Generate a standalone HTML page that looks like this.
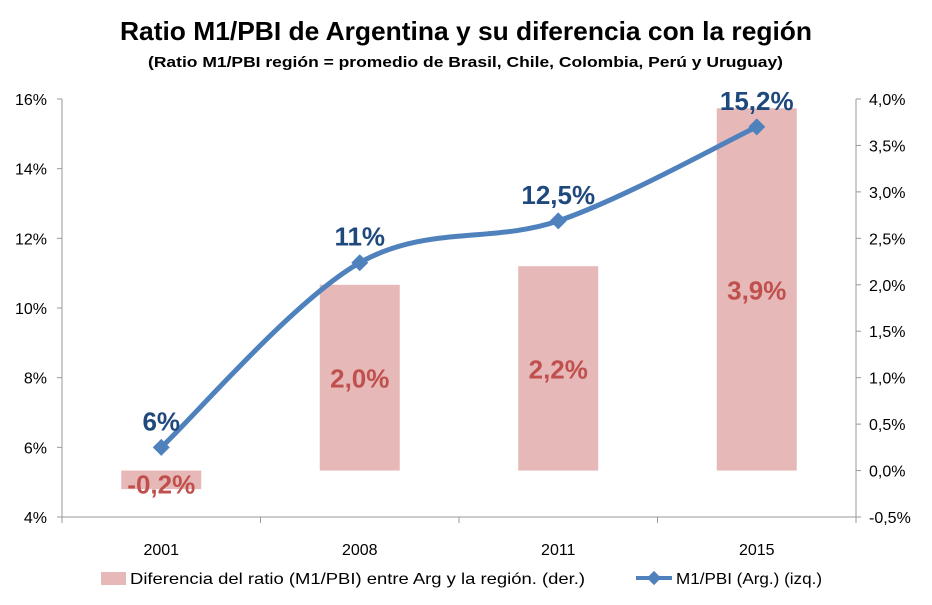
<!DOCTYPE html>
<html><head><meta charset="utf-8"><style>
body{margin:0;background:#fff;}
svg{display:block;font-family:"Liberation Sans",Calibri,sans-serif;}
</style></head><body>
<svg id="c" width="932" height="605" viewBox="0 0 932 605">
<text x="120" y="40" textLength="692" lengthAdjust="spacingAndGlyphs" font-size="26" font-weight="bold" fill="#000">Ratio M1/PBI de Argentina y su diferencia con la región</text>
<text x="148" y="67" textLength="635" lengthAdjust="spacingAndGlyphs" font-size="15" font-weight="bold" fill="#000">(Ratio M1/PBI región = promedio de Brasil, Chile, Colombia,  Perú y Uruguay)</text>
<g id="axes"></g><g id="bars"></g><g id="line"></g><g id="labels"></g>
<g>
<rect x="101" y="572" width="25" height="13" fill="#e6b9b8"/>
<text x="130" y="584" textLength="455" lengthAdjust="spacingAndGlyphs" font-size="16" fill="#000">Diferencia del ratio (M1/PBI) entre Arg y la región. (der.)</text>
<line x1="636" y1="578" x2="672" y2="578" stroke="#4f81bd" stroke-width="4"/>
<rect x="649" y="573" width="10" height="10" fill="#4f81bd" transform="rotate(45 654 578)"/>
<text x="676" y="584" textLength="146" lengthAdjust="spacingAndGlyphs" font-size="16" fill="#000">M1/PBI (Arg.) (izq.)</text>
</g>
</svg>
<script>
const categories=["2001","2008","2011","2015"];
const diffValues=[-0.2,2.0,2.2,3.9];
const diffLabels=["-0,2%","2,0%","2,2%","3,9%"];
const m1Values=[6,11.3,12.5,15.2];
const m1Labels=["6%","11%","12,5%","15,2%"];
const leftTicks=[4,6,8,10,12,14,16];
const rightTicks=[-0.5,0,0.5,1,1.5,2,2.5,3,3.5,4];
const NS="http://www.w3.org/2000/svg";
const X0=62,X1=856,Y0=99,Y1=517;
const yL=v=>Y1-(v-4)/12*(Y1-Y0);
const yR=v=>Y1-(v+0.5)/4.5*(Y1-Y0);
const bw=(X1-X0)/categories.length;
const xC=i=>X0+bw*(i+0.5);
function mk(tag,attrs,parent){const e=document.createElementNS(NS,tag);for(const k in attrs)e.setAttribute(k,attrs[k]);document.getElementById(parent).appendChild(e);return e;}
let e=mk('line',{x1:X0,y1:Y0,x2:X0,y2:Y1,stroke:'#999'},'axes');


e=mk('line',{x1:X1,y1:Y0,x2:X1,y2:Y1,stroke:'#999'},'axes');


e=mk('line',{x1:X0,y1:Y1,x2:X1,y2:Y1,stroke:'#999'},'axes');


leftTicks.forEach(v=>{
 mk('line',{x1:X0-5,y1:yL(v),x2:X0,y2:yL(v),stroke:'#999'},'axes');
 const t=mk('text',{x:X0-15,y:yL(v)+6,'text-anchor':'end','font-size':16,fill:'#000'},'axes');t.textContent=v+'%';
 
 
});
rightTicks.forEach(v=>{
 mk('line',{x1:X1,y1:yR(v),x2:X1+5,y2:yR(v),stroke:'#999'},'axes');
 const t=mk('text',{x:X1+13,y:yR(v)+6,'font-size':16,fill:'#000'},'axes');t.textContent=v.toFixed(1).replace('.',',')+'%';
 
 
});
for(let i=0;i<=categories.length;i++){mk('line',{x1:X0+bw*i,y1:Y1,x2:X0+bw*i,y2:Y1+6,stroke:'#999'},'axes');}
categories.forEach((c,i)=>{const t=mk('text',{x:xC(i),y:555,'text-anchor':'middle','font-size':16,fill:'#000'},'axes');t.textContent=c;
 
 });
diffValues.forEach((v,i)=>{
 const y0=yR(0),y=yR(v);
 const r=mk('rect',{x:xC(i)-40,y:Math.min(y0,y),width:80,height:Math.abs(y-y0),fill:'#e6b9b8'},'bars');
 
 
 const ly=v<0?y0+23:(y0+y)/2+10;
 const t=mk('text',{x:xC(i),y:ly,'text-anchor':'middle','font-size':26,'font-weight':'bold',fill:'#c0504d'},'labels');
 t.textContent=diffLabels[i];
 
 
});
const pts=m1Values.map((v,i)=>[xC(i),yL(v)]);
let d='M'+pts[0][0]+','+pts[0][1];
for(let i=0;i<pts.length-1;i++){
 const p0=pts[Math.max(0,i-1)],p1=pts[i],p2=pts[i+1],p3=pts[Math.min(pts.length-1,i+2)];
 const c1=[p1[0]+(p2[0]-p0[0])/6,p1[1]+(p2[1]-p0[1])/6],c2=[p2[0]-(p3[0]-p1[0])/6,p2[1]-(p3[1]-p1[1])/6];
 d+=' C'+c1+' '+c2+' '+p2;
}
const pl=mk('path',{d:d,fill:'none',stroke:'#4f81bd','stroke-width':5,'stroke-linecap':'round'},'line');


pts.forEach((p,i)=>{
 const m=mk('rect',{x:p[0]-6,y:p[1]-6,width:12,height:12,fill:'#4f81bd',transform:'rotate(45 '+p[0]+' '+p[1]+')'},'line');
 
 
 const t=mk('text',{x:p[0],y:p[1]-17,'text-anchor':'middle','font-size':26,'font-weight':'bold',fill:'#1f497d'},'labels');
 t.textContent=m1Labels[i];
 
 
});
</script>
</body></html>
